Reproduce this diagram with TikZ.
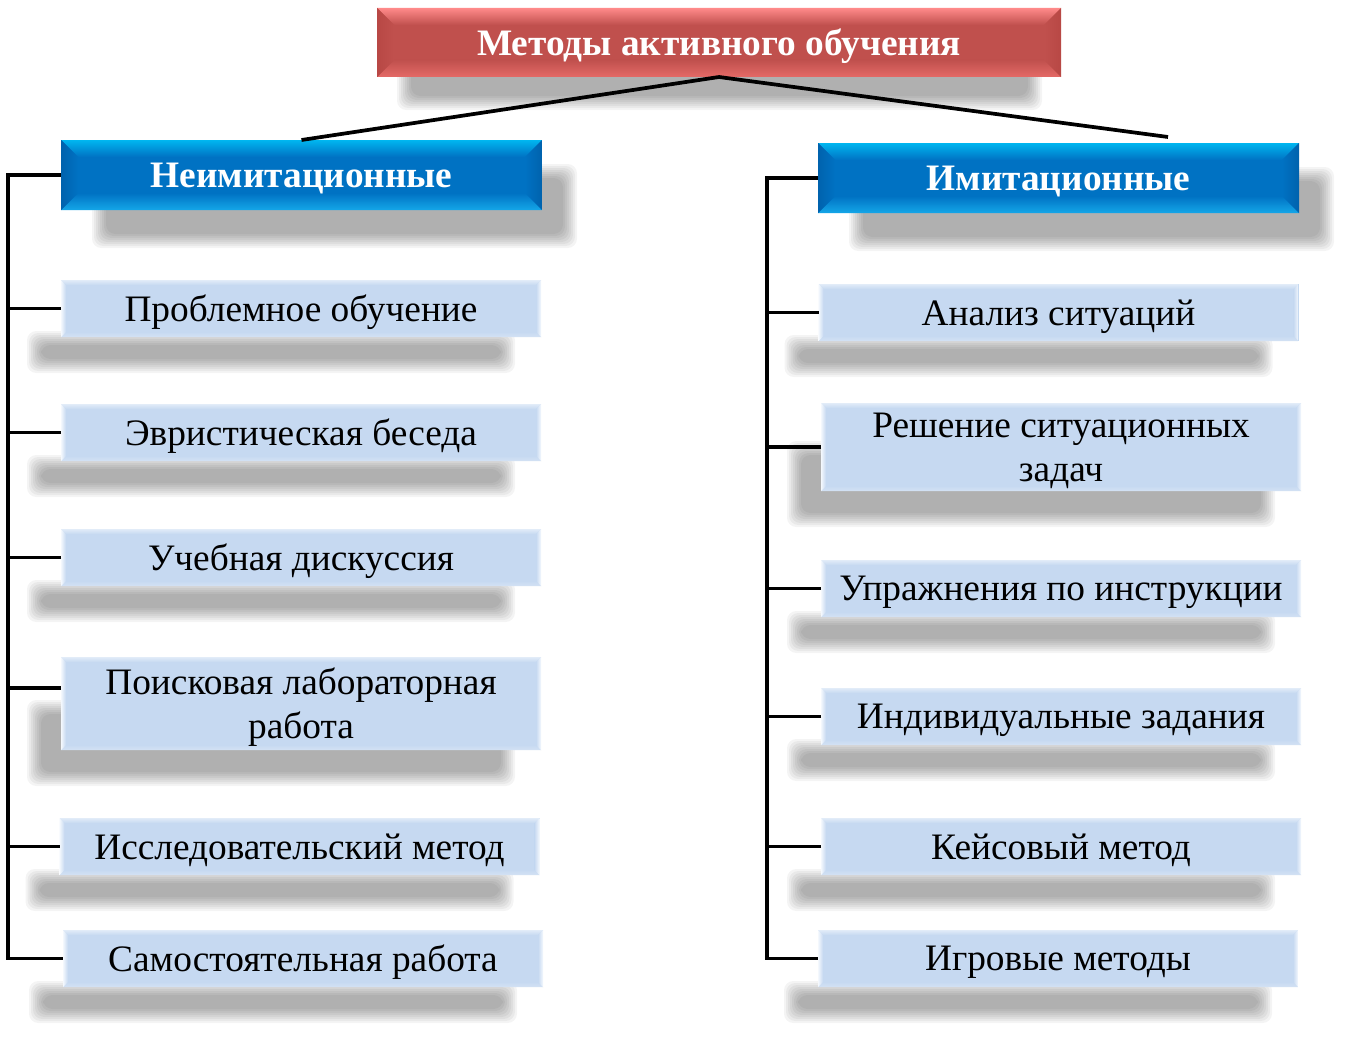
\documentclass[tikz,border=0pt]{standalone}
\usepackage{fontspec}
\setmainfont{Liberation Serif}
\usetikzlibrary{calc,backgrounds}
\definecolor{hdrtop}{HTML}{00B6F0}
\definecolor{hdrmid}{HTML}{0072C3}
\definecolor{hdrbot}{HTML}{14A6E8}
\definecolor{hdrside}{HTML}{0062AD}
\definecolor{redtop}{HTML}{FF8A8A}
\definecolor{redmid}{HTML}{C0504D}
\definecolor{redbot}{HTML}{E46A67}
\definecolor{redside}{HTML}{B84845}
\definecolor{litetop}{HTML}{E2ECF8}
\definecolor{litemid}{HTML}{C6D9F1}
\definecolor{litebot}{HTML}{D4E2F4}
\definecolor{liteside}{HTML}{F4F8FD}
\tikzset{
  bevel/.style n args={5}{path picture={
    \path (path picture bounding box.north west) coordinate (bNW)
          (path picture bounding box.north east) coordinate (bNE)
          (path picture bounding box.south west) coordinate (bSW)
          (path picture bounding box.south east) coordinate (bSE);
    \shade[top color=#2,bottom color=#3] (bNW) -- (bNE) -- ([shift={(-#1,-#1)}]bNE) -- ([shift={(#1,-#1)}]bNW) -- cycle;
    \shade[top color=#3,bottom color=#4] ([shift={(#1,#1)}]bSW) -- ([shift={(-#1,#1)}]bSE) -- (bSE) -- (bSW) -- cycle;
    \shade[left color=#5,right color=#3] (bNW) -- ([shift={(#1,-#1)}]bNW) -- ([shift={(#1,#1)}]bSW) -- (bSW) -- cycle;
    \shade[left color=#3,right color=#5] (bNE) -- ([shift={(-#1,-#1)}]bNE) -- ([shift={(-#1,#1)}]bSE) -- (bSE) -- cycle;
  }},
  common/.style={inner sep=0pt, outer sep=0pt, align=center, minimum width=360pt,
    minimum height=42.75pt, font=\fontsize{28}{33}\selectfont, text depth=0pt},
  lite/.style={common, fill=litemid, text=black,
    bevel={3.75pt}{litetop}{litemid}{litebot}{liteside}},
  tall/.style={minimum height=69.75pt},
  hdr/.style={common, minimum width=360.75pt, minimum height=52.5pt, fill=hdrmid, text=white,
    font=\fontsize{28}{33}\selectfont\bfseries,
    bevel={12.75pt}{hdrtop}{hdrmid}{hdrbot}{hdrside}},
  rootbox/.style={common, minimum width=513pt, minimum height=51.75pt, fill=redmid, text=white,
    font=\fontsize{28}{33}\selectfont\bfseries,
    bevel={12.75pt}{redtop}{redmid}{redbot}{redside}},
  conn/.style={line width=2.8pt, black, line join=miter},
}
\newcommand\mysh[5]{%
  \foreach \k in {1,...,8}{%
    \fill[black,opacity=0.045,rounded corners=7pt]
      ($(#1.south west)+(#2-\k*2,#4-\k*2)$) rectangle
      ($(#1.south east)+(#3+\k*2,#5+\k*2)$);
  }%
}
\begin{document}
\begin{tikzpicture}[x=0.75pt,y=-0.75pt]
\useasboundingbox (0,0) rectangle (1359,1056);

\node[rootbox] (top) at (719,42.5) {Методы активного обучения};
\node[hdr] (lh) at (301.5,175) {Неимитационные};
\node[hdr] (rh) at (1058.5,178) {Имитационные};

\node[lite] (l1) at (301,308.5) {Проблемное обучение};
\node[lite] (l2) at (301,432.5) {Эвристическая беседа};
\node[lite] (l3) at (301,557.5) {Учебная дискуссия};
\node[lite,tall] (l4) at (301,703.5) {Поисковая лабораторная\\работа};
\node[lite] (l5) at (299.5,846.5) {Исследовательский метод};
\node[lite] (l6) at (303,958.5) {Самостоятельная работа};

\node[lite] (r1) at (1058.5,312.5) {Анализ ситуаций};
\node[lite,minimum height=66pt] (r2) at (1061,447) {Решение ситуационных\\задач};
\node[lite] (r3) at (1061,588.5) {Упражнения по инструкции};
\node[lite] (r4) at (1061,716.5) {Индивидуальные задания};
\node[lite] (r5) at (1061,846.5) {Кейсовый метод};
\node[lite] (r6) at (1058,958.5) {Игровые методы};

\begin{scope}[on background layer]
  \fill[white] (0,0) rectangle (1359,1056);
  \mysh{top}{36}{-35}{-16}{17}
  \mysh{lh}{47}{19}{-30}{22}
  \mysh{rh}{47}{19}{-30}{22}
  \foreach \n in {l1,l2,l3,l5,l6,r1,r3,r4,r5,r6}{\mysh{\n}{-18}{-42}{10}{20}}
  \mysh{l4}{-18}{-42}{-34}{20}
  \mysh{r2}{-18}{-42}{-34}{20}
\end{scope}

% connectors from root
\coordinate (rtip) at (1168,137);
\draw[conn] (top.south) -- (lh.north);
\draw[conn] (top.south) -- (rtip);

% left spine
\coordinate (ls) at (8,0);
\draw[conn] (lh.west) -- (lh.west -| ls) -- (l6.west -| ls) -- (l6.west);
\foreach \n in {l1,l2,l3,l5}{\draw[conn] (\n.west) -- (\n.west -| ls);}
\path ($(l4.west)+(0,-15.5)$) coordinate (l4t);
\draw[conn] (l4t) -- (l4t -| ls);

% right spine
\coordinate (rs) at (767,0);
\draw[conn] (rh.west) -- (rh.west -| rs) -- (r6.west -| rs) -- (r6.west);
\foreach \n in {r1,r2,r3,r4,r5}{\draw[conn] (\n.west) -- (\n.west -| rs);}
\end{tikzpicture}
\end{document}
